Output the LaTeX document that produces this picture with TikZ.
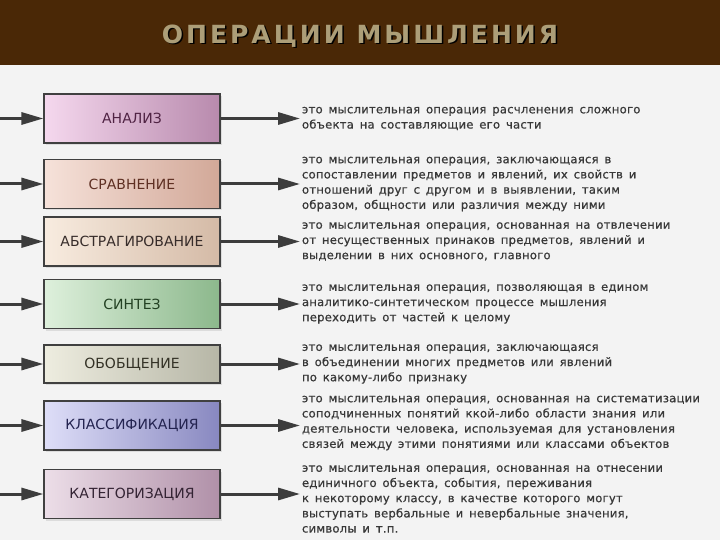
\documentclass[tikz,border=0pt]{standalone}
\usepackage{fontspec}
\setmainfont{DejaVu Sans}
\newfontfamily\titlefont[LetterSpace=12]{DejaVu Sans}
\newfontfamily\boxfont{DejaVu Sans}
\newfontfamily\descfont[LetterSpace=2,WordSpace=1.5,FakeBold=0.6]{DejaVu Sans}
\usepackage{tikz}
\usetikzlibrary{arrows.meta,positioning,shadows}
\usepackage{xcolor}

\definecolor{pagebg}{RGB}{243,243,243}
\definecolor{headbrown}{RGB}{74,40,6}
\definecolor{titletan}{RGB}{172,158,120}
\definecolor{arrgray}{RGB}{60,60,60}

\begin{document}
\begin{tikzpicture}[
      x=1pt,y=-1pt,
      opbox/.style={draw=black!75,line width=1.2pt,minimum width=176pt,
                    minimum height=49pt,inner sep=0pt,
                    drop shadow={shadow xshift=2pt,shadow yshift=-2pt,opacity=0.2},
                    font=\boxfont\fontsize{14}{15}\selectfont},
      desc/.style={anchor=west,align=left,inner sep=0pt,outer sep=2pt,
                   font=\descfont\fontsize{11.6}{15.2}\selectfont,text=black!78},
      arr/.style={-{Triangle[length=22pt,width=12pt]},line width=3pt,draw=arrgray},
    ]
    \useasboundingbox (0,0) rectangle (720,540);

    % ── Page and header band ───────────────────────────────────────────────
    \fill[pagebg] (0,0) rectangle (720,540);
    \fill[headbrown] (0,0) rectangle (720,65);
    \node[font=\titlefont\bfseries\fontsize{25}{25}\selectfont,text=black]
          at (361.5,37.5) {ОПЕРАЦИИ МЫШЛЕНИЯ};
    \node[font=\titlefont\bfseries\fontsize{25}{25}\selectfont,text=titletan]
          (title) at (360,36) {ОПЕРАЦИИ МЫШЛЕНИЯ};

    % ── Operation boxes ────────────────────────────────────────────────────
    \node[opbox,left color={rgb,255:red,245;green,216;blue,238},right color={rgb,255:red,184;green,138;blue,173},
          text={rgb,255:red,80;green,35;blue,68}] (analiz) at (132,118.5) {АНАЛИЗ};
    \node[opbox,left color={rgb,255:red,246;green,226;blue,218},right color={rgb,255:red,210;green,168;blue,152},
          text={rgb,255:red,95;green,48;blue,35}] (sravn) at (132,184) {СРАВНЕНИЕ};
    \node[opbox,left color={rgb,255:red,248;green,236;blue,224},right color={rgb,255:red,212;green,186;blue,166},
          text={rgb,255:red,55;green,44;blue,42}] (abstr) at (132,241.5) {АБСТРАГИРОВАНИЕ};
    \node[opbox,left color={rgb,255:red,222;green,240;blue,220},right color={rgb,255:red,140;green,184;blue,140},
          text={rgb,255:red,35;green,65;blue,35}] (sintez) at (132,304) {СИНТЕЗ};
    \node[opbox,minimum height=38pt,left color={rgb,255:red,238;green,237;blue,224},right color={rgb,255:red,182;green,182;blue,166},
          text={rgb,255:red,52;green,50;blue,38}] (obob) at (132,364) {ОБОБЩЕНИЕ};
    \node[opbox,left color={rgb,255:red,222;green,222;blue,248},right color={rgb,255:red,136;green,136;blue,192},
          text={rgb,255:red,35;green,35;blue,80}] (klass) at (132,425.5) {КЛАССИФИКАЦИЯ};
    \node[opbox,left color={rgb,255:red,236;green,222;blue,232},right color={rgb,255:red,176;green,144;blue,168},
          text={rgb,255:red,52;green,36;blue,52}] (kateg) at (132,494) {КАТЕГОРИЗАЦИЯ};

    % ── Incoming arrows ────────────────────────────────────────────────────
    \coordinate (in1) at (0,118.5);
    \coordinate (in2) at (0,184);
    \coordinate (in3) at (0,241.5);
    \coordinate (in4) at (0,304);
    \coordinate (in5) at (0,364);
    \coordinate (in6) at (0,425.5);
    \coordinate (in7) at (0,494);
    \draw[arr] (in1) -- (analiz);
    \draw[arr] (in2) -- (sravn);
    \draw[arr] (in3) -- (abstr);
    \draw[arr] (in4) -- (sintez);
    \draw[arr] (in5) -- (obob);
    \draw[arr] (in6) -- (klass);
    \draw[arr] (in7) -- (kateg);

    % ── Definitions ────────────────────────────────────────────────────────
    \node[desc] (d1) at (300,118.5)
      {это мыслительная операция расчленения сложного\\
       объекта на составляющие его части};
    \node[desc] (d2) at (300,184)
      {это мыслительная операция, заключающаяся в\\
       сопоставлении предметов и явлений, их свойств и\\
       отношений друг с другом и в выявлении, таким\\
       образом, общности или различия между ними};
    \node[desc] (d3) at (300,241.5)
      {это мыслительная операция, основанная на отвлечении\\
       от несущественных принаков предметов, явлений и\\
       выделении в них основного, главного};
    \node[desc] (d4) at (300,304)
      {это мыслительная операция, позволяющая в едином\\
       аналитико-синтетическом процессе мышления\\
       переходить от частей к целому};
    \node[desc] (d5) at (300,364)
      {это мыслительная операция, заключающаяся\\
       в объединении многих предметов или явлений\\
       по какому-либо признаку};
    \node[desc] (d6) at (300,423)
      {это мыслительная операция, основанная на систематизации\\
       соподчиненных понятий ккой-либо области знания или\\
       деятельности человека, используемая для установления\\
       связей между этими понятиями или классами объектов};
    \node[desc] (d7) at (300,499)
      {это мыслительная операция, основанная на отнесении\\
       единичного объекта, события, переживания\\
       к некоторому классу, в качестве которого могут\\
       выступать вербальные и невербальные значения,\\
       символы и т.п.};

    % ── Outgoing arrows ────────────────────────────────────────────────────
    \draw[arr] (analiz) -- (d1.west |- analiz);
    \draw[arr] (sravn)  -- (d2);
    \draw[arr] (abstr)  -- (d3);
    \draw[arr] (sintez) -- (d4);
    \draw[arr] (obob)   -- (d5);
    \draw[arr] (klass)  -- (d6.west |- klass);
    \draw[arr] (kateg)  -- (d7.west |- kateg);

  \end{tikzpicture}
\end{document}
